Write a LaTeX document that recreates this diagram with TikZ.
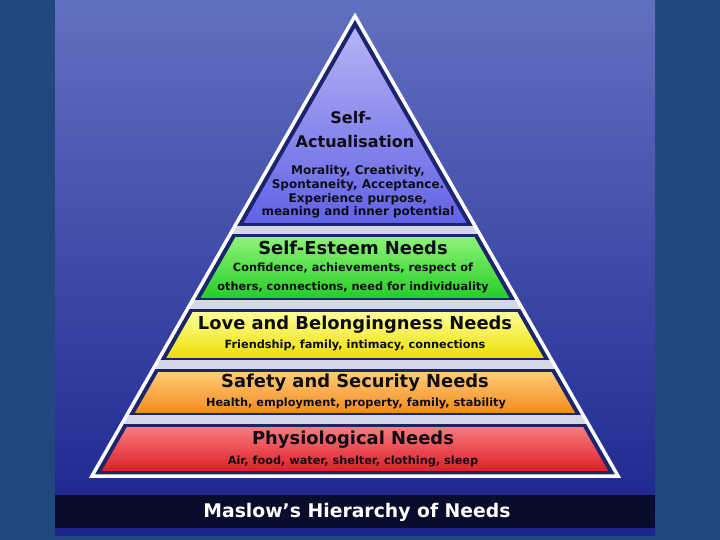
\documentclass[tikz,border=0pt]{standalone}
\usepackage{fontspec}
\setmainfont{DejaVu Sans}
\begin{document}
\begin{tikzpicture}[x=1pt,y=-1pt]
\definecolor{outerbg}{RGB}{31,73,125}
\definecolor{paneltop}{RGB}{98,112,192}
\definecolor{panelmid}{RGB}{52,64,160}
\definecolor{panelbot}{RGB}{28,36,142}
\definecolor{darkband}{RGB}{10,12,44}
\definecolor{gapgray}{RGB}{212,216,230}
\definecolor{navyline}{RGB}{28,36,110}
\definecolor{txt}{RGB}{14,14,24}
\definecolor{pTop}{RGB}{180,180,244}\definecolor{pBot}{RGB}{98,98,230}
\definecolor{gTop}{RGB}{140,242,120}\definecolor{gBot}{RGB}{40,206,40}
\definecolor{yTop}{RGB}{255,255,150}\definecolor{yBot}{RGB}{236,222,10}
\definecolor{oTop}{RGB}{255,204,120}\definecolor{oBot}{RGB}{242,140,30}
\definecolor{rTop}{RGB}{246,124,124}\definecolor{rBot}{RGB}{222,32,42}
\tikzset{
  head/.style={text=txt, font=\bfseries\fontsize{17.9}{19}\selectfont, inner sep=0pt},
  headtop/.style={text=txt, font=\bfseries\fontsize{16}{18}\selectfont, inner sep=0pt},
  sub/.style={text=txt, font=\bfseries\fontsize{11.3}{13}\selectfont, inner sep=0pt, align=center},
  subtop/.style={text=txt, font=\bfseries\fontsize{12}{13.7}\selectfont, inner sep=0pt, align=center},
}
\useasboundingbox (0,0) rectangle (720,540);
\fill[outerbg] (0,0) rectangle (720,540);
\shade[top color=paneltop, middle color=panelmid, bottom color=panelbot] (55,0) rectangle (655,535);
\fill[darkband] (55,495) rectangle (655,528);
% pyramid
\coordinate (A0) at (355,16);
\coordinate (L0) at (92,476);
\coordinate (R0) at (618,476);
\begin{scope}
  \clip (A0) -- (L0) -- (R0) -- cycle;
  \fill[gapgray] (0,0) rectangle (720,540);
  \fill[navyline] (0,0) rectangle (720,226);
  \fill[navyline] (0,234) rectangle (720,300);
  \fill[navyline] (0,309) rectangle (720,360);
  \fill[navyline] (0,369) rectangle (720,415);
  \fill[navyline] (0,424) rectangle (720,480);
  \begin{scope}
    \clip (355,28.1) -- (27.9,600) -- (682.1,600) -- cycle;
    \shade[top color=pTop, bottom color=pBot] (0,28) rectangle (720,223);
    \shade[top color=gTop, bottom color=gBot] (0,237) rectangle (720,297);
    \shade[top color=yTop, bottom color=yBot] (0,312) rectangle (720,357);
    \shade[top color=oTop, bottom color=oBot] (0,372) rectangle (720,412);
    \shade[top color=rTop, bottom color=rBot] (0,427) rectangle (720,470);
  \end{scope}
\end{scope}
\draw[white, line width=3.5pt, line join=miter] (A0) -- (L0) -- (R0) -- cycle;
% texts
\node[headtop] (h1a) at (351,118) {Self-};
\node[headtop] (h1b) at (355,142) {Actualisation};
\node[subtop] (s1) at (358,192) {Morality, Creativity,\\Spontaneity, Acceptance.\\Experience purpose,\\meaning and inner potential};
\node[head] (h2) at (353,248) {Self-Esteem Needs};
\node[sub] (s2a) at (353,268) {Confidence, achievements, respect of};
\node[sub] (s2b) at (353,287) {others, connections, need for individuality};
\node[head] (h3) at (355,325) {Love and Belongingness Needs};
\node[sub] (s3) at (355,345) {Friendship, family, intimacy, connections};
\node[head] (h4) at (355,383) {Safety and Security Needs};
\node[sub] (s4) at (356,403) {Health, employment, property, family, stability};
\node[head] (h5) at (353,440) {Physiological Needs};
\node[sub] (s5) at (353,461) {Air, food, water, shelter, clothing, sleep};
\node[text=white, font=\bfseries\fontsize{18.8}{20}\selectfont, inner sep=0pt] (title) at (357,512) {Maslow’s Hierarchy of Needs};
\end{tikzpicture}
\end{document}
